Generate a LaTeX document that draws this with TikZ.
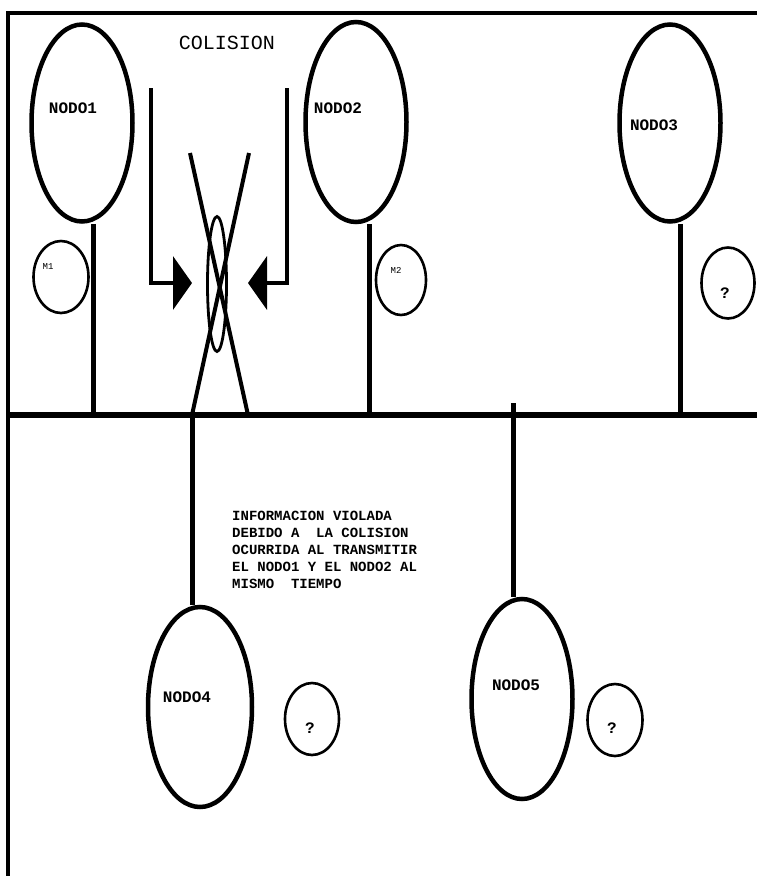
\documentclass[tikz,border=0pt]{standalone}
\usepackage{fontspec}
\setmonofont{Liberation Mono}
\usepackage{tikz}
\usetikzlibrary{arrows.meta,shapes.geometric}

\begin{document}
\begin{tikzpicture}[x=1pt,y=-1pt,line join=miter,
  nodo/.style={draw,ellipse,line width=4.5pt,inner sep=0pt},
  msg/.style={draw,ellipse,line width=2.6pt,inner sep=0pt,minimum width=54pt,minimum height=72pt},
  etiq/.style={font=\ttfamily\bfseries\fontsize{16}{19}\selectfont,inner sep=0pt},
  texto/.style={font=\ttfamily\bfseries\fontsize{14}{17}\selectfont,inner sep=0pt},
  chica/.style={font=\ttfamily\fontsize{9}{10}\selectfont,inner sep=0pt},
  flecha/.style={line width=4.2pt,-{Triangle[length=19pt,width=53pt]}}]
\useasboundingbox (0,0) rectangle (757,876);
\coordinate (esqA) at (8,13);
\coordinate (esqB) at (757,13);
\coordinate (esqC) at (8,876);
\draw[line width=3.5pt] (esqC) -- (esqA) -- (esqB);
\coordinate (busL) at (8,415);
\coordinate (busR) at (757,415);
\draw[line width=5.5pt] (busL) -- (busR);
\node[nodo,minimum width=101pt,minimum height=197pt] (nodo1) at (82,123) {};
\node[nodo,minimum width=101pt,minimum height=200pt] (nodo2) at (356,122) {};
\node[nodo,minimum width=101pt,minimum height=197pt] (nodo3) at (670,123) {};
\node[nodo,minimum width=104pt,minimum height=200pt] (nodo4) at (200,707) {};
\node[nodo,minimum width=101pt,minimum height=200pt] (nodo5) at (522,699) {};
\node[etiq] at (73,108) {NODO1};
\node[etiq] at (338,108) {NODO2};
\node[etiq] at (654,125) {NODO3};
\node[etiq] at (187,697) {NODO4};
\node[etiq] at (516,685) {NODO5};
\coordinate (t1) at (93,415);
\coordinate (t2) at (369,415);
\coordinate (t3) at (680,415);
\coordinate (t4) at (192,415);
\coordinate (t5) at (513,403);
\draw[line width=5pt] (t1 |- nodo1.south) -- (t1);
\draw[line width=5pt] (t2 |- nodo2.south) -- (t2);
\draw[line width=5pt] (t3 |- nodo3.south) -- (t3);
\draw[line width=5pt] (t4) -- (t4 |- nodo4.north);
\draw[line width=5pt] (t5) -- (t5 |- nodo5.north);
\node[msg,minimum width=55pt] (m1) at (61,277) {};
\node[msg,minimum width=50pt,minimum height=70pt] (m2) at (401,280) {};
\node[msg,minimum width=53pt,minimum height=71pt] (q3) at (728,283) {};
\node[msg] (q4) at (312,719) {};
\node[msg,minimum width=55pt] (q5) at (615,720) {};
\node[chica] at (48,267) {M1};
\node[chica] at (396,270) {M2};
\node[etiq] at (725,293) {?};
\node[etiq] at (310,728) {?};
\node[etiq] at (612,728) {?};
\node[font=\ttfamily\fontsize{20}{24}\selectfont,inner sep=0pt] (col) at (227,43) {COLISION};
\coordinate (fa1) at (151,88);
\coordinate (fa2) at (151,283);
\coordinate (fa3) at (192,283);
\draw[flecha] (fa1) -- (fa2) -- (fa3);
\coordinate (fb1) at (287,88);
\coordinate (fb2) at (287,283);
\coordinate (fb3) at (248,283);
\draw[flecha] (fb1) -- (fb2) -- (fb3);
\coordinate (xa1) at (190,153);
\coordinate (xa2) at (248,415);
\coordinate (xb1) at (249,153);
\coordinate (xb2) at (192,415);
\draw[line width=4pt] (xa1) -- (xa2);
\draw[line width=4pt] (xb1) -- (xb2);
\node[draw,ellipse,line width=2.8pt,inner sep=0pt,minimum width=19pt,minimum height=135pt] (choque) at (217,284) {};
\node[texto,anchor=north west,align=left] (info) at (232,511) {INFORMACION VIOLADA\\DEBIDO A\ \ LA COLISION\\OCURRIDA AL TRANSMITIR\\EL NODO1 Y EL NODO2 AL\\MISMO\ \ TIEMPO};
\end{tikzpicture}
\end{document}
